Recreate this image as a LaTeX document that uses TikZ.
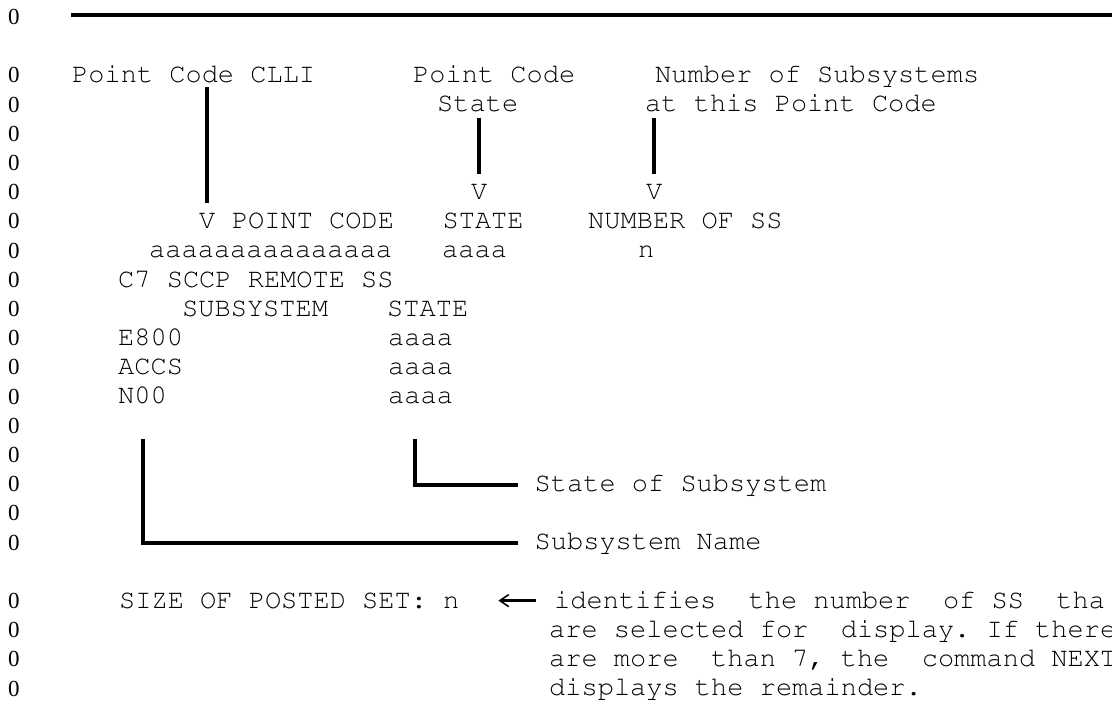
\documentclass[tikz,border=0pt]{standalone}
\usepackage{fontspec}
\setmainfont{Liberation Serif}
\usetikzlibrary{arrows.meta}
\newcommand{\courier}{\fontencoding{OT1}\fontfamily{pcr}\selectfont}
\frenchspacing

\begin{document}
\begin{tikzpicture}[x=1pt, y=-1pt,
    every node/.style={inner sep=0pt, anchor=base west, font=\fontsize{27}{29}\selectfont\courier},
    zero/.style={font=\fontsize{23}{25}\selectfont\rmfamily},
    lead/.style={line width=4pt}]
  \useasboundingbox (0,0) rectangle (1112,713);
  % margin column and rule
  \foreach \r in {-2,0,1,...,16,18,19,20,21}
    \node[zero] (m\r) at (8, {82.8+29.2*\r}) {0};
  \draw[lead] (71,15) -- (1112,15);
  % Labels on top
  \node (clli) at (72,82.7) {Point Code CLLI};
  \node (pcstate) at (413,82.7) {Point Code};
  \node (pcstatetwo) at (437,111.9) {State};
  \node (numss) at (655,82.7) {Number of Subsystems};
  \node (numsstwo) at (645,111.9) {at this Point Code};
  \node (vstate) at (471,199.5) {V};
  \node (vnum) at (646,199.5) {V};
  % Display
  \node (vclli) at (199,228.7) {V};
  \node (hdpc) at (vclli.base east) {\ POINT CODE};
  \node (hdstate) at (442.4,228.7) {STATE};
  \node (hdnum) at (588,228.7) {NUMBER OF SS};
  \node (pcval) at (149,257.9) {aaaaaaaaaaaaaaa};
  \node (stval) at (442,257.9) {aaaa};
  \node (numval) at (638,257.9) {n};
  \node (remss) at (118,287.1) {C7 SCCP REMOTE SS};
  \node (hdsub) at (182,316.3) {SUBSYSTEM};
  \node (hdsubst) at (387,316.3) {STATE};
  \node (ssa) at (118,345.5) {E800};
  \node (sta) at (388,345.5) {aaaa};
  \node (ssb) at (118,374.7) {ACCS};
  \node (stb) at (388,374.7) {aaaa};
  \node (ssc) at (118,403.9) {N00};
  \node (stc) at (388,403.9) {aaaa};
  % Labels below
  \node (stateof) at (534.5,491.5) {State of Subsystem};
  \node (ssname) at (534.5,549.9) {Subsystem Name};
  \node (sizeset) at (119,608.3) {SIZE OF POSTED SET: n};
  \node (noteone) at (554,608.3) {identifies~~the number~~of SS~~tha};
  \node (notetwo) at (549,637.5) {are selected for~~display. If there};
  \node (notethree) at (549,666.7) {are more~~than 7, the~~command NEXT};
  \node (notefour) at (549,695.9) {displays the remainder.};
  % Leaders
  \draw[lead, shorten <=4pt, shorten >=10pt] (clli.south -| vclli.north) -- (vclli.north);
  \draw[lead, shorten <=5pt, shorten >=10pt] (pcstatetwo.south -| vstate.north) -- (vstate.north);
  \draw[lead, shorten <=5pt, shorten >=10pt] (numsstwo.south -| vnum.north) -- (vnum.north);
  \draw[lead] ([xshift=-5.4pt, yshift=-35pt]stc.south) |- ([xshift=-16.5pt]stateof.west);
  \draw[lead] ([yshift=-35pt]ssc.south) |- ([xshift=-16.5pt]ssname.west);
  \draw[line width=3.5pt, -{Straight Barb[length=9pt, width=12pt, line width=1.5pt]},
        shorten <=18.5pt, shorten >=38.8pt] (noteone.west |- sizeset.east) -- (sizeset.east);
\end{tikzpicture}
\end{document}
